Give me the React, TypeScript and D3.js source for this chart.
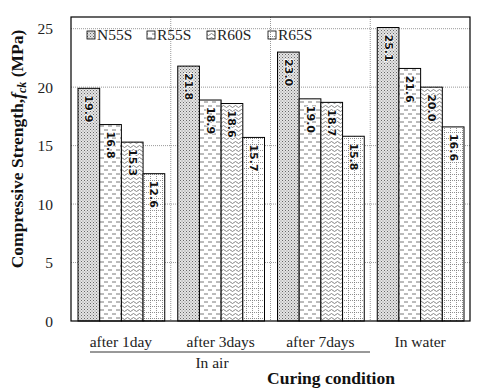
import React from "react";
import * as d3 from "d3";

const categories = ["after 1day", "after 3days", "after 7days", "In water"];
const seriesNames = ["N55S", "R55S", "R60S", "R65S"];
const N55S = [19.9, 21.8, 23.0, 25.1];
const R55S = [16.8, 18.9, 19.0, 21.6];
const R60S = [15.3, 18.6, 18.7, 20.0];
const R65S = [12.6, 15.7, 15.8, 16.6];
const yTicks = [0, 5, 10, 15, 20, 25];
const seriesValues = [N55S, R55S, R60S, R65S];

const W = 486, H = 390;
const plot = { left: 71, right: 470, top: 17, bottom: 321 };

export default function App() {
  const x = d3.scaleBand<string>().domain(categories).range([plot.left, plot.right]).paddingInner(0);
  const xs = d3
    .scaleBand<string>()
    .domain(seriesNames)
    .range([7, x.bandwidth() - 6])
    .paddingInner(0);
  const y = d3.scaleLinear().domain([0, 26]).range([plot.bottom, plot.top]);
  const patIds = ["pN55S", "pR55S", "pR60S", "pR65S"];
  const serif = "'Liberation Serif', 'Times New Roman', serif";
  const sans = "'DejaVu Sans', sans-serif";

  return (
    <svg width={W} height={H} style={{ position: "absolute", left: 0, top: 0 }}>
      <defs>
        <pattern id="pN55S" width={3} height={3} patternUnits="userSpaceOnUse">
          <rect width={3} height={3} fill="#e4e4e4" />
          <rect x={0} y={0} width={1} height={1} fill="#666" />
          <rect x={1.5} y={1.5} width={1} height={1} fill="#888" />
        </pattern>
        <pattern id="pR55S" width={8} height={8} patternUnits="userSpaceOnUse">
          <rect width={8} height={8} fill="#fff" />
          <line x1={0} y1={2} x2={4} y2={2} stroke="#555" strokeWidth={0.8} />
          <line x1={4} y1={6} x2={8} y2={6} stroke="#555" strokeWidth={0.8} />
        </pattern>
        <pattern id="pR60S" width={6} height={4} patternUnits="userSpaceOnUse">
          <rect width={6} height={4} fill="#fff" />
          <path d="M0,2.5 Q1.5,0.5 3,2.5 T6,2.5" fill="none" stroke="#666" strokeWidth={0.8} />
        </pattern>
        <pattern id="pR65S" width={6} height={6} patternUnits="userSpaceOnUse">
          <rect width={6} height={6} fill="#fff" />
          <line x1={0} y1={0.5} x2={6} y2={0.5} stroke="#777" strokeWidth={0.8} strokeDasharray="1,1" />
          <line x1={0.5} y1={0} x2={0.5} y2={6} stroke="#777" strokeWidth={0.8} strokeDasharray="1,1" />
        </pattern>
      </defs>

      {/* gridlines */}
      {yTicks.filter((t) => t > 0).map((t) => (
        <line key={"g" + t} x1={plot.left} x2={plot.right} y1={y(t)} y2={y(t)} stroke="#999" strokeDasharray="1,1" />
      ))}
      {categories.slice(1).map((c) => (
        <line key={"v" + c} x1={x(c)!} x2={x(c)!} y1={plot.top} y2={plot.bottom} stroke="#999" strokeDasharray="1,1" />
      ))}

      {/* bars */}
      {categories.map((c, ci) =>
        seriesNames.map((s, si) => {
          const v = seriesValues[si][ci];
          const bx = x(c)! + xs(s)!;
          const bw = xs.bandwidth();
          const by = y(v);
          const label = v.toFixed(1);
          const cx = bx + bw / 2;
          const ty = by + 7;
          return (
            <g key={c + s}>
              <rect x={bx} y={by} width={bw} height={plot.bottom - by} fill={`url(#${patIds[si]})`} stroke="#000" strokeWidth={1} />
              <text
                transform={`translate(${cx},${ty}) rotate(90)`}
                fontFamily={sans}
                fontWeight="bold"
                fontSize={11}
                dominantBaseline="central"
                textAnchor="start"
                fill="#111"
                stroke="#fff"
                strokeWidth={1.5}
                paintOrder="stroke"
              >
                {label}
              </text>
            </g>
          );
        })
      )}

      {/* frame */}
      <rect x={plot.left} y={plot.top} width={plot.right - plot.left} height={plot.bottom - plot.top} fill="none" stroke="#000" strokeWidth={1.2} />

      {/* y ticks */}
      {yTicks.map((t) => (
        <text key={"t" + t} x={53} y={y(t)} textAnchor="end" dominantBaseline="central" fontFamily={serif} fontSize={15.5} fill="#222">
          {t}
        </text>
      ))}

      {/* y title */}
      <text transform={`translate(23,${149}) rotate(-90)`} textAnchor="middle" fontFamily={serif} fontWeight="bold" fontSize={17.5} fill="#111">
        Compressive Strength,
        <tspan fontStyle="italic">f</tspan>
        <tspan fontStyle="italic" fontSize={12} dy={3}>ck</tspan>
        <tspan dy={-3}> (MPa)</tspan>
      </text>

      {/* legend */}
      {seriesNames.map((s, si) => {
        const lx = [87, 147, 207, 268][si];
        return (
          <g key={"l" + s}>
            <rect x={lx} y={31} width={8} height={8} fill={`url(#${patIds[si]})`} stroke="#000" strokeWidth={0.8} />
            <text x={lx + 10} y={40} fontFamily={serif} fontSize={15.5} fill="#222">
              {s}
            </text>
          </g>
        );
      })}

      {/* x labels */}
      {categories.map((c) => (
        <text key={"x" + c} x={x(c)! + x.bandwidth() / 2} y={347} textAnchor="middle" fontFamily={serif} fontSize={15.5} fill="#222">
          {c}
        </text>
      ))}
      <line x1={90} x2={370} y1={352} y2={352} stroke="#333" strokeWidth={1} />
      <text x={212} y={368} textAnchor="middle" fontFamily={serif} fontSize={15.5} fill="#222">
        In air
      </text>
      <text x={331} y={384} textAnchor="middle" fontFamily={serif} fontWeight="bold" fontSize={17.5} fill="#111">
        Curing condition
      </text>
    </svg>
  );
}
